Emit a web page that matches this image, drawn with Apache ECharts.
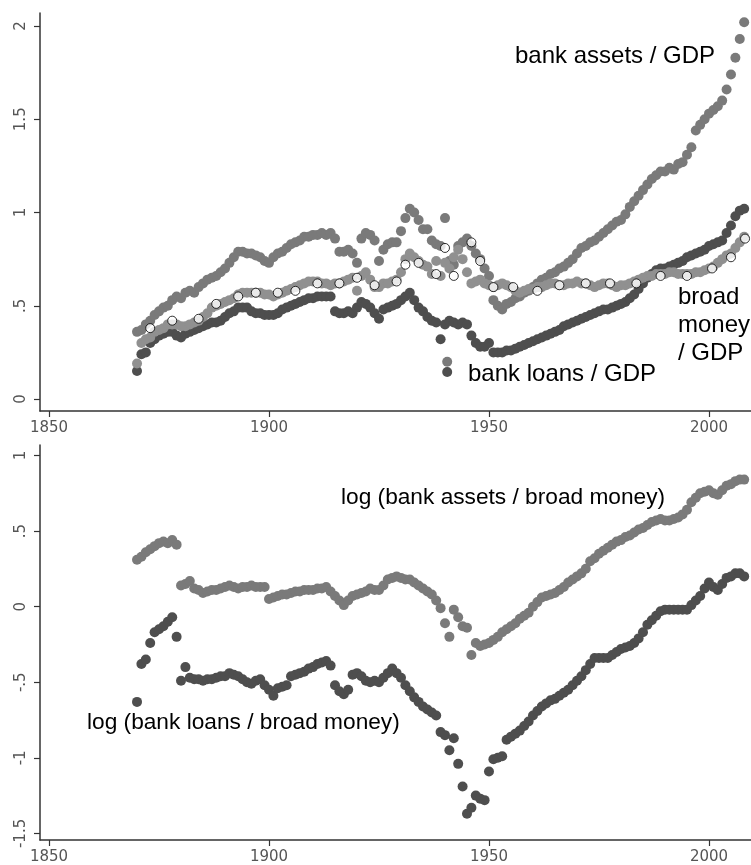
<!DOCTYPE html>
<html><head><meta charset="utf-8">
<script src="https://cdn.jsdelivr.net/npm/echarts@6/dist/echarts.min.js"></script>
<style>html,body{margin:0;padding:0;background:#fff}#c{width:751px;height:865px}</style>
</head><body><div id="c"></div>
<script>
// ---------- DATA ----------
const firstYear = 1870;
const lastYear = 2008;

const assetsGDP = [
0.36,0.37,0.40,0.42,0.45,0.47,0.49,0.50,0.53,0.55,
0.54,0.57,0.58,0.57,0.60,0.62,0.64,0.65,0.66,0.68,
0.70,0.73,0.76,0.79,0.79,0.78,0.78,0.77,0.76,0.74,
0.73,0.76,0.78,0.79,0.81,0.83,0.84,0.85,0.87,0.87,
0.88,0.88,0.89,0.88,0.89,0.86,0.79,0.79,0.80,0.78,
0.73,0.86,0.89,0.88,0.85,0.74,0.80,0.83,0.84,0.84,
0.90,0.97,1.02,1.00,0.96,0.91,0.91,0.85,0.83,0.82,
0.97,0.74,0.72,0.82,0.84,0.86,0.82,0.78,0.75,0.70,
0.66,0.53,0.50,0.48,0.51,0.52,0.54,0.55,0.57,0.58,
0.60,0.62,0.64,0.65,0.67,0.68,0.70,0.71,0.73,0.75,
0.78,0.81,0.82,0.84,0.85,0.87,0.89,0.91,0.93,0.95,
0.96,0.99,1.03,1.06,1.09,1.12,1.15,1.18,1.20,1.22,
1.22,1.24,1.23,1.26,1.27,1.31,1.35,1.44,1.47,1.50,
1.53,1.55,1.57,1.60,1.66,1.74,1.83,1.93,2.02];

const loansGDP = [
0.15,0.24,0.25,0.30,0.32,0.34,0.35,0.36,0.36,0.34,
0.33,0.35,0.36,0.37,0.38,0.39,0.40,0.41,0.41,0.42,
0.44,0.46,0.47,0.49,0.49,0.49,0.47,0.46,0.46,0.45,
0.45,0.45,0.46,0.48,0.49,0.50,0.51,0.52,0.53,0.54,
0.54,0.55,0.55,0.55,0.55,0.47,0.46,0.46,0.47,0.46,
0.49,0.52,0.51,0.49,0.46,0.43,0.48,0.49,0.50,0.51,
0.53,0.55,0.57,0.53,0.49,0.47,0.44,0.42,0.41,0.32,
0.40,0.42,0.41,0.40,0.41,0.40,0.34,0.30,0.28,0.28,
0.30,0.25,0.25,0.25,0.26,0.26,0.27,0.28,0.29,0.30,
0.31,0.32,0.33,0.34,0.35,0.36,0.37,0.39,0.40,0.41,
0.42,0.43,0.44,0.45,0.46,0.47,0.48,0.48,0.49,0.50,
0.51,0.52,0.54,0.56,0.59,0.62,0.65,0.67,0.69,0.70,
0.70,0.71,0.72,0.73,0.74,0.76,0.77,0.78,0.79,0.80,
0.82,0.83,0.84,0.85,0.89,0.93,0.98,1.01,1.02];

const moneyGDP = [
0.19,0.30,0.32,0.33,0.36,0.37,0.38,0.40,0.40,0.40,
0.39,0.39,0.40,0.41,0.42,0.44,0.46,0.49,0.50,0.51,
0.52,0.53,0.54,0.56,0.57,0.57,0.57,0.57,0.57,0.56,
0.56,0.55,0.56,0.57,0.58,0.59,0.60,0.61,0.62,0.63,
0.63,0.63,0.62,0.62,0.61,0.62,0.62,0.63,0.64,0.65,
0.58,0.66,0.68,0.64,0.60,0.60,0.62,0.62,0.63,0.64,
0.68,0.75,0.78,0.76,0.74,0.72,0.71,0.67,0.74,0.66,
0.73,0.70,0.76,0.80,0.75,0.68,0.62,0.63,0.64,0.62,
0.61,0.60,0.61,0.62,0.61,0.60,0.58,0.57,0.58,0.59,
0.59,0.60,0.60,0.61,0.62,0.62,0.61,0.61,0.62,0.62,
0.63,0.62,0.62,0.61,0.60,0.61,0.62,0.62,0.61,0.60,
0.61,0.61,0.62,0.63,0.64,0.65,0.66,0.66,0.67,0.67,
0.67,0.68,0.68,0.67,0.67,0.67,0.67,0.68,0.68,0.69,
0.70,0.71,0.73,0.75,0.77,0.78,0.81,0.84,0.87];

// isolated wartime observations (year, value)
const assetsOutlierYears = [1940.5];
const assetsOutlierValues = [0.20];
const loansOutlierYears = [1940.5];
const loansOutlierValues = [0.145];

// open-circle broad money benchmark points
const markerYears = [1873,1878,1884,1888,1893,1897,1902,1906,1911,1916,1920,1924,1929,1931,1934,1938,1940,1942,1946,1948,1951,1955.5,1961,1966,1972,1977.5,1983.5,1989,1995,2000.7,2005,2008.2];
const markerValues = [0.38,0.42,0.43,0.51,0.55,0.57,0.57,0.58,0.62,0.62,0.65,0.61,0.63,0.72,0.73,0.67,0.81,0.66,0.84,0.74,0.60,0.60,0.58,0.61,0.62,0.62,0.62,0.66,0.66,0.70,0.76,0.86];

const logAssetsMoney = [
0.31,0.33,0.36,0.38,0.40,0.42,0.43,0.42,0.44,0.41,
0.14,0.15,0.17,0.12,0.11,0.09,0.10,0.11,0.11,0.12,
0.13,0.14,0.13,0.12,0.13,0.13,0.14,0.13,0.13,0.13,
0.05,0.06,0.07,0.08,0.08,0.09,0.10,0.10,0.11,0.11,
0.11,0.12,0.12,0.13,0.10,0.07,0.04,0.01,0.04,0.07,
0.08,0.09,0.10,0.12,0.11,0.11,0.14,0.18,0.19,0.20,
0.19,0.18,0.18,0.16,0.14,0.12,0.10,0.08,0.04,-0.01,
-0.11,-0.20,-0.02,-0.07,-0.13,-0.14,-0.32,-0.24,-0.26,-0.25,
-0.24,-0.22,-0.20,-0.17,-0.15,-0.13,-0.11,-0.08,-0.06,-0.04,
0.00,0.03,0.06,0.07,0.08,0.09,0.11,0.13,0.16,0.18,
0.20,0.22,0.25,0.30,0.32,0.35,0.37,0.39,0.41,0.43,
0.44,0.46,0.47,0.49,0.51,0.52,0.54,0.56,0.57,0.58,
0.57,0.57,0.58,0.59,0.61,0.64,0.69,0.72,0.75,0.76,
0.77,0.75,0.74,0.77,0.80,0.81,0.83,0.84,0.84];

const logLoansMoney = [
-0.63,-0.38,-0.35,-0.24,-0.17,-0.15,-0.13,-0.10,-0.07,-0.20,
-0.49,-0.40,-0.47,-0.48,-0.48,-0.49,-0.48,-0.48,-0.47,-0.46,
-0.46,-0.44,-0.45,-0.46,-0.48,-0.50,-0.51,-0.49,-0.48,-0.52,
-0.55,-0.59,-0.54,-0.53,-0.52,-0.46,-0.45,-0.44,-0.43,-0.41,
-0.40,-0.38,-0.37,-0.36,-0.39,-0.52,-0.56,-0.58,-0.55,-0.45,
-0.44,-0.46,-0.49,-0.50,-0.49,-0.50,-0.47,-0.44,-0.41,-0.44,
-0.47,-0.52,-0.56,-0.60,-0.63,-0.66,-0.68,-0.70,-0.72,-0.83,
-0.85,-0.95,-0.87,-1.04,-1.19,-1.37,-1.33,-1.25,-1.27,-1.28,
-1.09,-1.01,-1.00,-0.99,-0.88,-0.86,-0.84,-0.82,-0.79,-0.76,
-0.72,-0.69,-0.66,-0.64,-0.62,-0.61,-0.59,-0.57,-0.55,-0.52,
-0.49,-0.46,-0.42,-0.38,-0.34,-0.34,-0.34,-0.34,-0.32,-0.30,
-0.28,-0.27,-0.26,-0.24,-0.21,-0.17,-0.12,-0.09,-0.06,-0.03,
-0.02,-0.02,-0.02,-0.02,-0.02,-0.02,0.01,0.04,0.07,0.12,
0.16,0.13,0.11,0.15,0.19,0.20,0.22,0.22,0.20];

const xTicks = [1850, 1900, 1950, 2000];
const yTicksTop = [0, 0.5, 1, 1.5, 2];
const yTicksBottom = [-1.5, -1, -0.5, 0, 0.5, 1];

// ---------- CHART ----------
const years = [];
for (let y = firstYear; y <= lastYear; y++) years.push(y);
const pairs = (xs, vs) => vs.map((v, i) => [xs[i], v]);

const C_ASSETS = '#7a7a7a', C_MONEY = '#909090', C_LOANS = '#4e4e4e';
const tickFont = {color:'#555', fontFamily:'DejaVu Sans', fontSize:15};
const fmtY = v => { if (v === 0) return '0'; return String(v).replace(/^(-?)0\./, '$1.'); };
const fmtX = v => String(Math.round(v));

function xAx(idx){
  return {type:'value', gridIndex:idx, min:1847.95, max:2009.55,
    axisLine:{show:true, onZero:false, lineStyle:{color:'#333', width:1.5}},
    axisTick:{show:true, customValues:xTicks, length:6, lineStyle:{color:'#333', width:1.2}},
    axisLabel:Object.assign({show:true, customValues:xTicks, margin:10, formatter:fmtX}, tickFont),
    splitLine:{show:false}};
}
function yAx(idx, min, max, ticks){
  return {type:'value', gridIndex:idx, min:min, max:max,
    axisLine:{show:true, onZero:false, lineStyle:{color:'#333', width:1.5}},
    axisTick:{show:true, customValues:ticks, length:6, lineStyle:{color:'#333', width:1.2}},
    axisLabel:Object.assign({show:true, customValues:ticks, margin:11, rotate:90, formatter:fmtY}, tickFont),
    splitLine:{show:false}};
}
function dots(name, data, color, xi){
  return {name:name, type:'scatter', xAxisIndex:xi, yAxisIndex:xi, data:data, symbol:'circle', symbolSize:10,
    itemStyle:{color:color, opacity:1}, silent:true};
}
const FONT = '24px "Liberation Sans", Arial, sans-serif';
const FONT_LOG = '22.7px "Liberation Sans", Arial, sans-serif';

const chart = echarts.init(document.getElementById('c'), null, {renderer:'canvas'});
chart.setOption({
  animation:false,
  backgroundColor:'#fff',
  grid:[{left:40, top:13, width:711, height:398}, {left:40, top:445, width:711, height:396}],
  xAxis:[xAx(0), xAx(1)],
  yAxis:[yAx(0, -0.0643, 2.0697, yTicksTop), yAx(1, -1.5435, 1.069, yTicksBottom)],
  series:[
    dots('bank loans / GDP', pairs(years, loansGDP).concat(pairs(loansOutlierYears, loansOutlierValues)), C_LOANS, 0),
    dots('bank assets / GDP', pairs(years, assetsGDP).concat(pairs(assetsOutlierYears, assetsOutlierValues)), C_ASSETS, 0),
    dots('broad money / GDP', pairs(years, moneyGDP), C_MONEY, 0),
    {name:'broad money benchmark', type:'scatter', xAxisIndex:0, yAxisIndex:0, data:pairs(markerYears, markerValues),
      symbol:'circle', symbolSize:9, itemStyle:{color:'#fff', borderColor:'#000', borderWidth:1}, silent:true, z:5},
    dots('log (bank assets / broad money)', pairs(years, logAssetsMoney), C_ASSETS, 1),
    dots('log (bank loans / broad money)', pairs(years, logLoansMoney), C_LOANS, 1)
  ],
  graphic:[
    {type:'text', left:515, top:44, style:{text:'bank assets / GDP', fill:'#000', font:FONT}},
    {type:'text', left:468, top:362, style:{text:'bank loans / GDP', fill:'#000', font:FONT}},
    {type:'text', left:678, top:283, style:{text:'broad\nmoney\n/ GDP', fill:'#000', font:FONT, lineHeight:28}},
    {type:'text', left:341, top:486, style:{text:'log (bank assets / broad money)', fill:'#000', font:FONT_LOG}},
    {type:'text', left:87, top:711, style:{text:'log (bank loans / broad money)', fill:'#000', font:FONT_LOG}}
  ]
});
</script></body></html>
